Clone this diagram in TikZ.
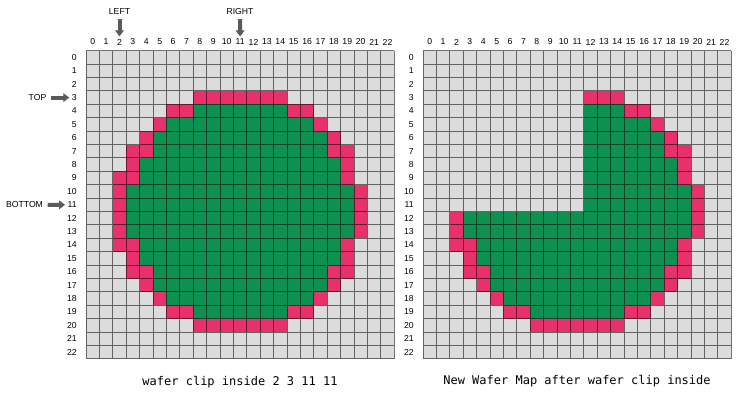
\documentclass[tikz,border=0pt]{standalone}
\usepackage{fontspec}
\setmainfont{Liberation Sans}
\newfontfamily\capfont{DejaVu Sans Mono}
\usetikzlibrary{arrows.meta}
\definecolor{cellgray}{HTML}{DCDCDC}
\definecolor{diered}{HTML}{E8316B}
\definecolor{diegreen}{HTML}{0E9150}
\definecolor{arrowgray}{HTML}{5A5A5A}
% row / first die / last die / first good / last good
\newcommand{\waferrows}{3/8/14/0/-1, 4/6/16/8/14, 5/5/17/6/16, 6/4/18/5/17,
  7/3/19/5/17, 8/3/19/4/18, 9/2/19/4/18, 10/2/20/3/19, 11/2/20/3/19,
  12/2/20/3/19, 13/2/20/3/19, 14/2/19/4/18, 15/3/19/4/18, 16/3/19/5/17,
  17/4/18/5/17, 18/5/17/6/16, 19/6/16/8/14, 20/8/14/0/-1}
\tikzstyle{numlabel} = [inner sep=0.75pt, font=\fontsize{6.5}{7}\selectfont]
\tikzstyle{tag} = [inner sep=0.75pt, font=\fontsize{6.5}{7}\selectfont]
\tikzset{
  blockarrow/.style ={draw=arrowgray, line width=3pt, -{Triangle[length=4.5pt,width=6.5pt]},
    shorten <=2.5pt, shorten >=1pt},
  gridline/.style ={draw=black, draw opacity=0.55, line width=0.75pt},
  caption/.style ={font=\capfont\fontsize{9}{10}\selectfont}
}

\begin{document}
\begin{tikzpicture}[x=0.75pt, y=-0.75pt]
 \useasboundingbox (0,0) rectangle (740,394);

 % original map
 \begin{scope}[shift={(86,50.7)}, x=10.05pt, y=-10.05pt]
   \fill[cellgray] (0,0) rectangle (23,23);
   \foreach \r/\a/\d/\b/\c in \waferrows {
     \fill[diered] (\a,\r) rectangle (\d+1,\r+1);
     \fill[diegreen] (\b,\r) rectangle (\c+1,\r+1);
   }
   \draw[gridline] \foreach \i in {0,...,23} {(\i,0) -- (\i,23) (0,\i) -- (23,\i)};
   \foreach \i in {0,...,22} {
     \node[numlabel] (lc\i) at (\i+0.5,-0.65) {\i};
     \node[numlabel, anchor=east] (lr\i) at (-0.6,\i+0.5) {\i};
   }
 \end{scope}

 % map after clip
 \begin{scope}[shift={(423,50.7)}, x=10.05pt, y=-10.05pt]
   \fill[cellgray] (0,0) rectangle (23,23);
   \foreach \r/\a/\d/\b/\c in \waferrows {
     \fill[diered] (\a,\r) rectangle (\d+1,\r+1);
     \fill[diegreen] (\b,\r) rectangle (\c+1,\r+1);
   }
   \fill[cellgray] (2,3) rectangle (12,12);
   \draw[gridline] \foreach \i in {0,...,23} {(\i,0) -- (\i,23) (0,\i) -- (23,\i)};
   \foreach \i in {0,...,22} {
     \node[numlabel] (rc\i) at (\i+0.5,-0.65) {\i};
     \node[numlabel, anchor=east] (rr\i) at (-0.6,\i+0.5) {\i};
   }
 \end{scope}

 \node[tag] (left) at (119.5,11.5) {LEFT};
 \node[tag] (right) at (240,11.5) {RIGHT};
 \node[tag] (top) at (37.5,97.6) {TOP};
 \node[tag] (bottom) at (24.5,204.8) {BOTTOM};

 \begin{scope}[every path/.style=blockarrow]
   \path (left) -- (lc2);
   \path (right) -- (lc11);
   \path (top) -- (lr3);
   \path (bottom) -- (lr11);
 \end{scope}

 \node[caption] (capleft) at (240,382) {wafer clip inside 2 3 11 11};
 \node[caption] (capright) at (577,381) {New Wafer Map after wafer clip inside};
\end{tikzpicture}
\end{document}
